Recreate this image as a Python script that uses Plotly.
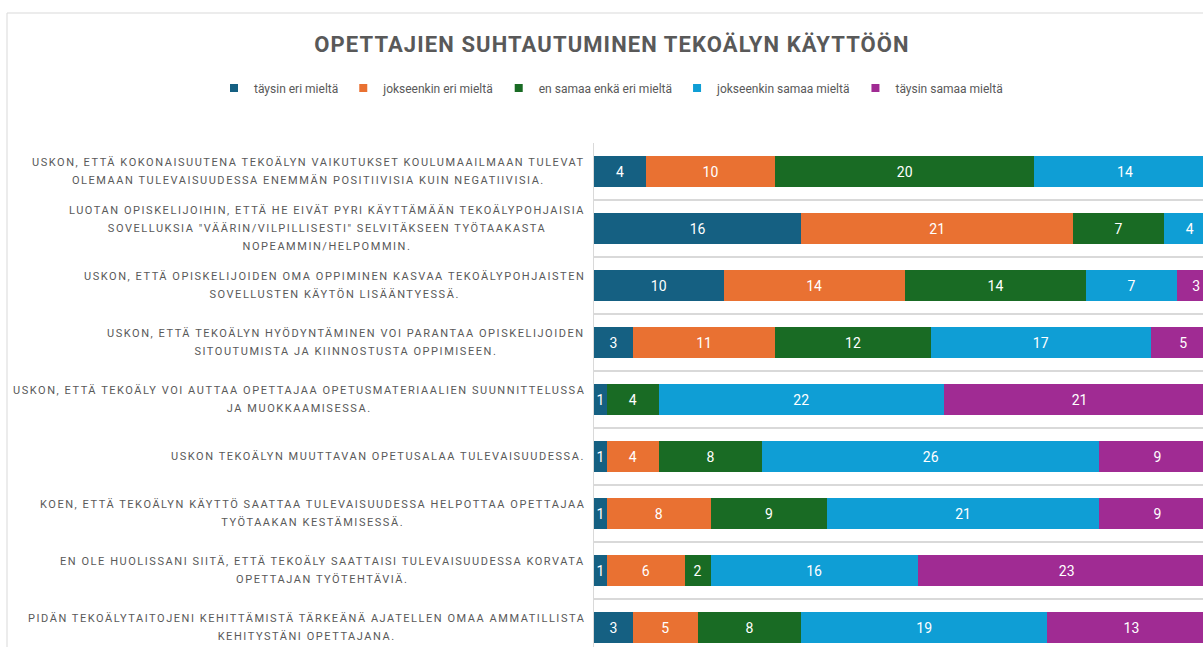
import plotly.graph_objects as go

categories = [
    "USKON, ETTÄ KOKONAISUUTENA TEKOÄLYN VAIKUTUKSET KOULUMAAILMAAN TULEVAT<br>OLEMAAN TULEVAISUUDESSA ENEMMÄN POSITIIVISIA KUIN NEGATIIVISIA.",
    "LUOTAN OPISKELIJOIHIN, ETTÄ HE EIVÄT PYRI KÄYTTÄMÄÄN TEKOÄLYPOHJAISIA<br>SOVELLUKSIA \"VÄÄRIN/VILPILLISESTI\" SELVITÄKSEEN TYÖTAAKASTA<br>NOPEAMMIN/HELPOMMIN.",
    "USKON, ETTÄ OPISKELIJOIDEN OMA OPPIMINEN KASVAA TEKOÄLYPOHJAISTEN<br>SOVELLUSTEN KÄYTÖN LISÄÄNTYESSÄ.",
    "USKON, ETTÄ TEKOÄLYN HYÖDYNTÄMINEN VOI PARANTAA OPISKELIJOIDEN<br>SITOUTUMISTA JA KIINNOSTUSTA OPPIMISEEN.",
    "USKON, ETTÄ TEKOÄLY VOI AUTTAA OPETTAJAA OPETUSMATERIAALIEN SUUNNITTELUSSA<br>JA MUOKKAAMISESSA.",
    "USKON TEKOÄLYN MUUTTAVAN OPETUSALAA TULEVAISUUDESSA.",
    "KOEN, ETTÄ TEKOÄLYN KÄYTTÖ SAATTAA TULEVAISUUDESSA HELPOTTAA OPETTAJAA<br>TYÖTAAKAN KESTÄMISESSÄ.",
    "EN OLE HUOLISSANI SIITÄ, ETTÄ TEKOÄLY SAATTAISI TULEVAISUUDESSA KORVATA<br>OPETTAJAN TYÖTEHTÄVIÄ.",
    "PIDÄN TEKOÄLYTAITOJENI KEHITTÄMISTÄ TÄRKEÄNÄ AJATELLEN OMAA AMMATILLISTA<br>KEHITYSTÄNI OPETTAJANA.",
]

series_names = [
    "täysin eri mieltä",
    "jokseenkin eri mieltä",
    "en samaa enkä eri mieltä",
    "jokseenkin samaa mieltä",
    "täysin samaa mieltä",
]

taysin_eri = [4, 16, 10, 3, 1, 1, 1, 1, 3]
jokseenkin_eri = [10, 21, 14, 11, 0, 4, 8, 6, 5]
neutraali = [20, 7, 14, 12, 4, 8, 9, 2, 8]
jokseenkin_samaa = [14, 4, 7, 17, 22, 26, 21, 16, 19]
taysin_samaa = [0, 0, 3, 5, 21, 9, 9, 23, 13]

title_text = "OPETTAJIEN SUHTAUTUMINEN TEKOÄLYN KÄYTTÖÖN"

series_values = [taysin_eri, jokseenkin_eri, neutraali, jokseenkin_samaa, taysin_samaa]
colors = ["#156082", "#E97132", "#196B24", "#0F9ED5", "#A02B93"]

W, H = 1203, 647
L, T = 594, 143
PW, PH = W - L, H - T
ROW_PX = 57.0
UNIT_PX = 12.95

ypos = list(range(len(categories)))

narrow = "Liberation Sans Narrow, Arial Narrow, Roboto, sans-serif"
lbl_style = '<span style="font-size:11px;letter-spacing:1.55px">'

fig = go.Figure()
for name, vals, col in zip(series_names, series_values, colors):
    fig.add_trace(go.Bar(
        y=ypos, x=vals, name=name, orientation="h",
        marker=dict(color=col, line=dict(width=0)),
        width=0.56, showlegend=False, legendgroup=name,
        text=[str(v) if v else "" for v in vals],
        textposition="inside", insidetextanchor="middle",
        insidetextfont=dict(color="white", size=14, family=narrow),
        constraintext="none",
        hoverinfo="x+name",
    ))
# legend entries (small square keys like the original)
for name, col in zip(series_names, colors):
    fig.add_trace(go.Scatter(
        x=[None], y=[None], mode="markers", name=name, legendgroup=name,
        marker=dict(symbol="square", size=8, color=col), showlegend=True,
    ))

for i, cat in enumerate(categories):
    fig.add_annotation(
        x=(587 - L) / PW, xref="paper", xanchor="right",
        y=i, yref="y", yanchor="middle",
        text=lbl_style + cat.replace("<br>", "</span><br>" + lbl_style) + "</span>",
        showarrow=False, align="center",
        font=dict(family="Roboto", size=14, color="#595959"),
    )

# outer chart border
fig.add_shape(type="rect", xref="paper", yref="paper",
              x0=(7 - L) / PW, x1=1.2, y0=-0.2, y1=(H - 13) / PH,
              line=dict(color="#D9D9D9", width=1), fillcolor="rgba(0,0,0,0)", layer="below")

fig.update_layout(
    width=W, height=H,
    margin=dict(l=L, r=0, t=T, b=0, autoexpand=False),
    paper_bgcolor="white", plot_bgcolor="white",
    barmode="stack", bargap=0.44,
    title=dict(text='<span style="letter-spacing:1.1px">' + title_text + "</span>",
               xref="container", yref="container",
               x=612 / W, y=1 - 44 / H, xanchor="center", yanchor="middle",
               font=dict(family=narrow, size=22, color="#595959", weight="bold")),
    legend=dict(orientation="h", xref="paper", yref="paper",
                x=(214 - L) / PW, y=(H - 88) / PH, xanchor="left", yanchor="middle",
                font=dict(family=narrow, size=12, color="#595959"),
                traceorder="normal", itemwidth=30, tracegroupgap=0),
    showlegend=True,
    uniformtext=dict(mode=False),
)
fig.update_xaxes(range=[0, PW / UNIT_PX], showgrid=False, showticklabels=False,
                 zeroline=False, showline=False, fixedrange=True)
fig.update_yaxes(range=[-0.5 + PH / ROW_PX, -0.5],
                 tickvals=[i - 0.5 for i in range(len(categories) + 1)],
                 showticklabels=False, ticks="",
                 showgrid=True, gridcolor="#D9D9D9", gridwidth=2,
                 showline=True, linecolor="#D9D9D9", linewidth=1,
                 zeroline=False, fixedrange=True)

fig.write_html("out.html", config={"displayModeBar": False},
               post_script="document.body.style.margin='0';")
